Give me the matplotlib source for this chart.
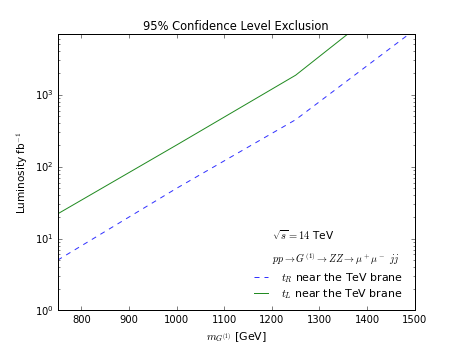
import matplotlib
matplotlib.use('Agg')
import matplotlib.pyplot as plt
import numpy as np

plt.style.use('classic')
plt.rcParams['font.size'] = 10

# graviton mass points [GeV]
mass = [750, 1000, 1250, 1500]

# luminosity needed for 95% CL exclusion [fb^-1]
lumi_tR = [5.0, 50.0, 450.0, 8000.0]
lumi_tL = [22.0, 200.0, 1870.0, 38000.0]


def main():
    fig = plt.figure(figsize=(6.4, 4.8), dpi=72, facecolor='white')
    ax = fig.add_subplot(111)

    ax.plot(mass, lumi_tR, '--', color='#3333ff', dashes=(5, 5),
            label=r'$t_R$ near the TeV brane')
    ax.plot(mass, lumi_tL, '-', color='#228b22',
            label=r'$t_L$ near the TeV brane')

    ax.set_yscale('log')
    ax.set_xlim(750, 1500)
    ax.set_ylim(1, 7000)
    ax.tick_params(labelsize=10)

    ax.set_title('95% Confidence Level Exclusion', fontsize=11.5)
    ax.set_xlabel(r'$m_{G^{(1)}}$ [GeV]', fontsize=11)
    ax.set_ylabel(r'Luminosity fb$^{-1}$', fontsize=10.5)

    ax.text(0.60, 0.274, r'$\sqrt{s}=14$ TeV', transform=ax.transAxes,
            va='center', ha='left', fontsize=10.5)
    ax.text(0.60, 0.19, r'$pp\to G^{(1)}\to ZZ\to\mu^+\mu^-\ jj$',
            transform=ax.transAxes, va='center', ha='left', fontsize=10)

    ax.legend(loc='lower right', frameon=False, fontsize=11,
              handlelength=1.9, handletextpad=0.9, labelspacing=0.2,
              bbox_to_anchor=(0.995, 0.0))

    fig.savefig('out.png', dpi=72, facecolor='white')


if __name__ == '__main__':
    main()
